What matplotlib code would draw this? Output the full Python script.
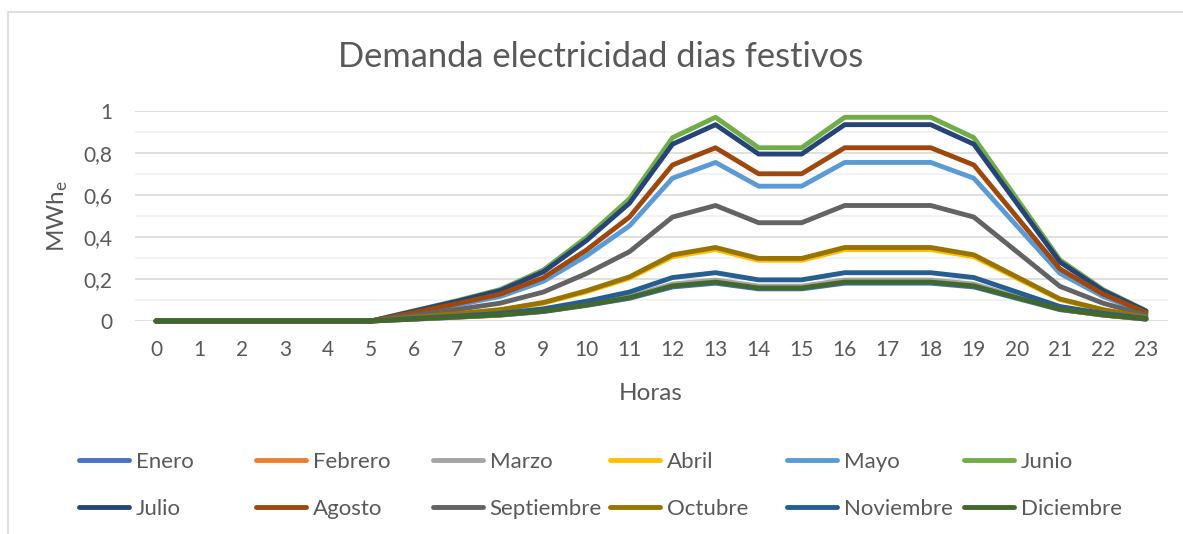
import matplotlib
matplotlib.use("Agg")
from matplotlib import pyplot as plt
from matplotlib.patches import Rectangle

plt.rcParams['font.family'] = ['Lato', 'DejaVu Sans']
plt.rcParams['mathtext.default'] = 'regular'

TXT = '#595959'
FS = 16

horas = list(range(24))

enero      = [0,0,0,0,0,0,0.009,0.018,0.028,0.045,0.074,0.108,0.162,0.180,0.153,0.153,0.180,0.180,0.180,0.162,0.108,0.054,0.028,0.009]
febrero    = [0,0,0,0,0,0,0.010,0.019,0.029,0.048,0.078,0.114,0.171,0.190,0.162,0.162,0.190,0.190,0.190,0.171,0.114,0.057,0.029,0.010]
marzo      = [0,0,0,0,0,0,0.010,0.020,0.030,0.049,0.080,0.117,0.176,0.195,0.166,0.166,0.195,0.195,0.195,0.176,0.117,0.059,0.030,0.010]
abril      = [0,0,0,0,0,0,0.017,0.034,0.053,0.085,0.139,0.204,0.306,0.340,0.289,0.289,0.340,0.340,0.340,0.306,0.204,0.102,0.053,0.017]
mayo       = [0,0,0,0,0,0,0.038,0.076,0.117,0.189,0.310,0.453,0.680,0.755,0.642,0.642,0.755,0.755,0.755,0.680,0.453,0.227,0.117,0.038]
junio      = [0,0,0,0,0,0,0.049,0.097,0.150,0.243,0.398,0.582,0.873,0.970,0.825,0.825,0.970,0.970,0.970,0.873,0.582,0.291,0.150,0.049]
julio      = [0,0,0,0,0,0,0.047,0.094,0.145,0.234,0.383,0.561,0.842,0.935,0.795,0.795,0.935,0.935,0.935,0.842,0.561,0.281,0.145,0.047]
agosto     = [0,0,0,0,0,0,0.041,0.083,0.128,0.206,0.338,0.495,0.743,0.825,0.701,0.701,0.825,0.825,0.825,0.743,0.495,0.248,0.128,0.041]
septiembre = [0,0,0,0,0,0,0.028,0.055,0.085,0.138,0.226,0.330,0.495,0.550,0.468,0.468,0.550,0.550,0.550,0.495,0.330,0.165,0.085,0.028]
octubre    = [0,0,0,0,0,0,0.018,0.035,0.054,0.088,0.144,0.210,0.315,0.350,0.298,0.298,0.350,0.350,0.350,0.315,0.210,0.105,0.054,0.018]
noviembre  = [0,0,0,0,0,0,0.012,0.023,0.036,0.058,0.094,0.138,0.207,0.230,0.196,0.196,0.230,0.230,0.230,0.207,0.138,0.069,0.036,0.012]
diciembre  = [0,0,0,0,0,0,0.009,0.019,0.029,0.046,0.076,0.111,0.167,0.185,0.157,0.157,0.185,0.185,0.185,0.167,0.111,0.056,0.029,0.009]

meses = ['Enero', 'Febrero', 'Marzo', 'Abril', 'Mayo', 'Junio',
         'Julio', 'Agosto', 'Septiembre', 'Octubre', 'Noviembre', 'Diciembre']
series = [enero, febrero, marzo, abril, mayo, junio,
          julio, agosto, septiembre, octubre, noviembre, diciembre]
colores = ['#4472C4', '#ED7D31', '#A5A5A5', '#FFC000', '#5B9BD5', '#70AD47',
           '#264478', '#9E480E', '#636363', '#997300', '#255E91', '#43682B']

fig = plt.figure(figsize=(11.83, 5.34), dpi=100)
ax = fig.add_axes([134.5/1183, 213/534, 1033/1183, 210/534])

lines = []
for nombre, vals, c in zip(meses, series, colores):
    l, = ax.plot(horas, vals, color=c, lw=3.5, label=nombre, clip_on=False,
                 solid_joinstyle='round', solid_capstyle='round', zorder=3)
    lines.append(l)

ax.set_xlim(-0.5, 23.5)
ax.set_ylim(0, 1)
ax.set_xticks(horas)
ax.set_xticklabels([str(h) for h in horas])
ax.set_yticks([0, 0.2, 0.4, 0.6, 0.8, 1])
ax.set_yticklabels(['0', '0,2', '0,4', '0,6', '0,8', '1'])
ax.set_yticks([0.1, 0.3, 0.5, 0.7, 0.9], minor=True)
ax.grid(axis='y', which='major', color='#d9d9d9', lw=1.2, zorder=0)
ax.grid(axis='y', which='minor', color='#f0f0f0', lw=1.2, zorder=0)
ax.tick_params(axis='both', which='both', length=0, labelsize=15, labelcolor=TXT)
ax.tick_params(axis='x', pad=14)
ax.tick_params(axis='y', pad=16)
for s in ax.spines.values():
    s.set_visible(False)

ax.set_xlabel('Horas', fontsize=17.5, color=TXT, va='center')
ax.xaxis.set_label_coords(0.5, -(394 - 321)/210)
ax.set_ylabel('MWh$_\\mathregular{e}$', fontsize=17.5, color=TXT, va='center')
ax.yaxis.set_label_coords(-(134.5 - 58)/1033, 0.5)
fig.text(601/1183, 1 - 57/534, 'Demanda electricidad dias festivos',
         ha='center', va='center', fontsize=24.8, color=TXT)

# leyenda: 6 columnas, 2 filas
col_x = [79, 256, 433, 610, 787, 964]
for i, x in enumerate(col_x):
    fig.legend(handles=[lines[i], lines[i+6]], loc='upper left',
               bbox_to_anchor=(x/1183, 1 - 452/534), frameon=False,
               fontsize=FS, labelcolor=TXT, handlelength=2.25,
               handletextpad=0.3, labelspacing=1.2, borderpad=0, borderaxespad=0)

fig.patches.append(Rectangle((8/1183, -0.1), 1.2, 1.1 - 12/534, transform=fig.transFigure,
                             fill=False, ec='#d9d9d9', lw=1.2))

fig.savefig('out.png', dpi=100, facecolor='white')
